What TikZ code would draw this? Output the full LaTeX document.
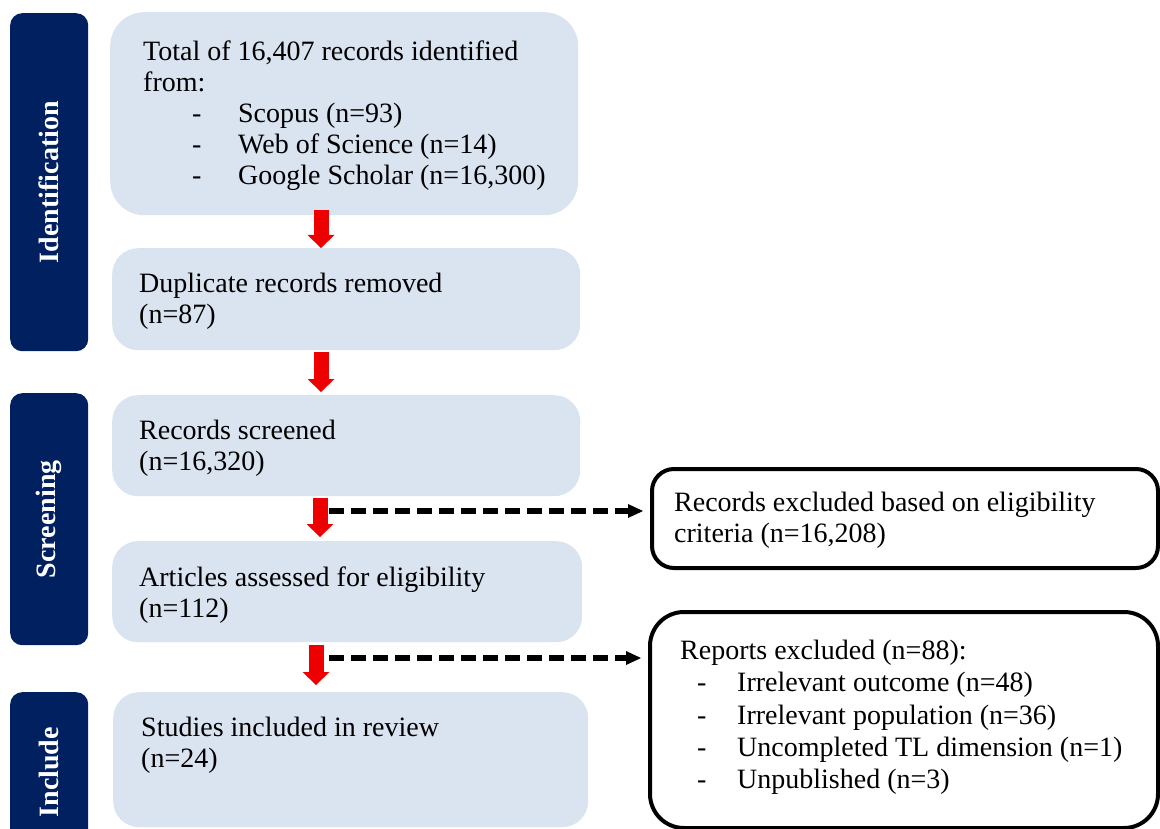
\documentclass[tikz,border=0pt]{standalone}
\usepackage{fontspec}
\setmainfont{Liberation Serif}
\usepackage{tikz}
\usetikzlibrary{arrows.meta,positioning}
\definecolor{navy}{HTML}{002060}
\definecolor{paleblue}{HTML}{DAE3F0}
\definecolor{arrowred}{HTML}{EE0000}
\newcommand{\srcdash}[2]{\hspace*{#1}\makebox[#2][l]{-}}
\tikzset{
    stage/.style={fill=navy, rounded corners=12pt, minimum width=78pt, anchor=north west, inner sep=0pt},
    stagelabel/.style={text=white, font=\fontsize{28}{31}\selectfont\bfseries, rotate=90},
    lbox/.style={fill=paleblue, rounded corners=26pt, anchor=north west, inner sep=0pt},
    xbox/.style={draw=black, line width=4pt, fill=white, rounded corners=22pt, anchor=north west, inner sep=0pt},
    txt/.style={anchor=north west, align=left, inner sep=0pt, font=\fontsize{28}{31}\selectfont},
    redarrow/.style={draw=arrowred, line width=15pt, -{Triangle[width=27pt,length=13pt,line width=0pt]}},
    dasharrow/.style={draw=black, line width=5.5pt, dash pattern=on 15pt off 7pt, -{Triangle[width=14pt,length=15pt,line width=0pt]}},
}

\begin{document}
\begin{tikzpicture}[x=1pt, y=-1pt]
\useasboundingbox (0,0) rectangle (1160,829);
\clip (0,0) rectangle (1160,829);
% stages
\node[stage, minimum height=338pt] (ident) at (10,13) {};
\node[stage, minimum height=252pt] (screen) at (10,393) {};
\node[stage, minimum height=160pt] (incl) at (10,692) {};
\node[stagelabel] at (ident) {Identification};
\node[stagelabel] at (screen) {Screening};
\node[stagelabel] at (incl) {Include};
% main boxes
\node[lbox, rounded corners=34pt, minimum width=468pt, minimum height=203pt] (found) at (110,12) {};
\node[lbox, minimum width=468pt, minimum height=102pt] (dupl) at (112,248) {};
\node[lbox, minimum width=468pt, minimum height=101pt] (scrd) at (112,395) {};
\node[lbox, minimum width=470pt, minimum height=101pt] (elig) at (112,541) {};
\node[lbox, minimum width=475pt, minimum height=135pt] (incd) at (113,692) {};
\node[txt] at (143,41) {Total of 16,407 records identified\\
from:\\
\srcdash{49pt}{46pt}Scopus (n=93)\\
\srcdash{49pt}{46pt}Web of Science (n=14)\\
\srcdash{49pt}{46pt}Google Scholar (n=16,300)};
\node[txt] at (139,273) {Duplicate records removed\\(n=87)};
\node[txt] at (139,420) {Records screened\\(n=16,320)};
\node[txt] at (139,567) {Articles assessed for eligibility\\(n=112)};
\node[txt] at (141,717) {Studies included in review\\(n=24)};
% excluded boxes
\node[xbox, minimum width=506pt, minimum height=99pt] (excl1) at (650,467) {};
\node[xbox, rounded corners=34pt, minimum width=508pt, minimum height=216pt] (excl2) at (648,610) {};
\node[txt] at (674,492) {Records excluded based on eligibility\\criteria (n=16,208)};
\node[txt, font=\fontsize{28}{32.2}\selectfont] at (680,640) {Reports excluded (n=88):\\
\srcdash{17pt}{40pt}Irrelevant outcome (n=48)\\
\srcdash{17pt}{40pt}Irrelevant population (n=36)\\
\srcdash{17pt}{40pt}Uncompleted TL dimension (n=1)\\
\srcdash{17pt}{40pt}Unpublished (n=3)};
% arrows
\coordinate (r1) at (321,210);
\coordinate (r2) at (321,352);
\coordinate (r3) at (320,498);
\coordinate (r4) at (316,645);
\draw[redarrow] (r1) -- (r1 |- dupl.north);
\draw[redarrow, shorten >=3pt] (r2) -- (r2 |- scrd.north);
\draw[redarrow, shorten >=4pt] (r3) -- (r3 |- elig.north);
\draw[redarrow, shorten >=7pt] (r4) -- (r4 |- incd.north);
\coordinate (d1) at (329,511);
\coordinate (d2) at (329,658);
\draw[dasharrow, shorten >=7pt] (d1) -- (d1 -| excl1.west);
\draw[dasharrow, shorten >=7pt] (d2) -- (d2 -| excl2.west);
\end{tikzpicture}
\end{document}
